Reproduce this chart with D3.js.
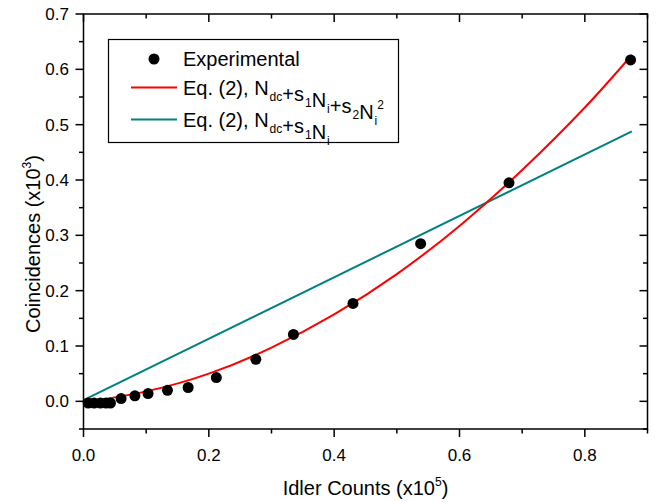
<!DOCTYPE html>
<html lang="en">
<head>
    <meta charset="UTF-8">
    <script src="https://d3js.org/d3.v7.min.js"></script>
    <title>Coincidences vs idler counts</title>
    <style>
    body { margin: 0; background: #fff; }
    svg { font-family: "Liberation Sans", Arial, sans-serif; }
    </style>
</head>
<body>
    <div class="content"></div>
    <script>
    // experimental points (x10^5 idler counts, x10^3 coincidences)
    var expX = [0.0075, 0.017, 0.027, 0.036, 0.043, 0.060, 0.082, 0.103, 0.134, 0.167, 0.212, 0.275, 0.335, 0.430, 0.538, 0.679, 0.873];
    var expY = [-0.003, -0.003, -0.003, -0.003, -0.003, 0.005, 0.010, 0.014, 0.020, 0.025, 0.043, 0.076, 0.121, 0.177, 0.285, 0.395, 0.617];

    // quadratic fit curve
    var quadX = [0, 0.1, 0.2, 0.3, 0.4, 0.5, 0.6, 0.7, 0.8, 0.875];
    var quadY = [-0.002, 0.018, 0.050, 0.097, 0.157, 0.230, 0.317, 0.418, 0.531, 0.626];

    // linear fit line
    var linX = [0, 0.875];
    var linY = [0.002, 0.488];

    var xTicks = [0, 0.2, 0.4, 0.6, 0.8];
    var yTicks = [0, 0.1, 0.2, 0.3, 0.4, 0.5, 0.6, 0.7];

    var W = 667, H = 502;
    var m = { left: 83.5, right: 647.5, top: 14, bottom: 429 };

    var svg = d3.select(".content").append("svg")
        .attr("width", W)
        .attr("height", H);

    var x = d3.scaleLinear().domain([0, 0.9]).range([m.left, m.right]);
    var y = d3.scaleLinear().domain([-0.05, 0.7]).range([m.bottom, m.top]);

    // minor ticks
    var xMinor = d3.range(0, 0.91, 0.1).map(function(d) { return +d.toFixed(2); });
    var yMinor = d3.range(-0.05, 0.701, 0.05).map(function(d) { return +d.toFixed(3); });

    // fit lines
    var line = d3.line().x(function(d) { return x(d[0]); }).y(function(d) { return y(d[1]); });

    svg.append("path")
        .datum(linX.map(function(d, i) { return [d, linY[i]]; }))
        .attr("d", line)
        .attr("fill", "none")
        .attr("stroke", "#008080")
        .attr("stroke-width", 2);

    svg.append("path")
        .datum(quadX.map(function(d, i) { return [d, quadY[i]]; }))
        .attr("d", line.curve(d3.curveNatural))
        .attr("fill", "none")
        .attr("stroke", "#ff0000")
        .attr("stroke-width", 2);

    svg.selectAll(".pt")
        .data(expX.map(function(d, i) { return [d, expY[i]]; }))
        .enter().append("circle")
        .attr("class", "pt")
        .attr("cx", function(d) { return x(d[0]); })
        .attr("cy", function(d) { return y(d[1]); })
        .attr("r", 5.5)
        .attr("fill", "#000");

    // frame + ticks
    var ax = svg.append("g").attr("stroke", "#000").attr("stroke-width", 1.5);
    ax.append("rect")
        .attr("x", m.left).attr("y", m.top)
        .attr("width", m.right - m.left).attr("height", m.bottom - m.top)
        .attr("fill", "none");

    xMinor.forEach(function(v, i) {
        var len = (i % 2 === 0) ? 8 : 4.5;
        ax.append("line").attr("x1", x(v)).attr("x2", x(v))
            .attr("y1", m.bottom).attr("y2", m.bottom + len);
        ax.append("line").attr("x1", x(v)).attr("x2", x(v))
            .attr("y1", m.top).attr("y2", m.top + len);
    });
    yMinor.forEach(function(v, i) {
        var len = (i % 2 === 1) ? 8 : 4.5;
        ax.append("line").attr("y1", y(v)).attr("y2", y(v))
            .attr("x1", m.left).attr("x2", m.left - len);
        ax.append("line").attr("y1", y(v)).attr("y2", y(v))
            .attr("x1", m.right).attr("x2", m.right - len);
    });

    // tick labels
    svg.selectAll(".xl")
        .data(xTicks)
        .enter().append("text")
        .attr("x", function(d) { return x(d); })
        .attr("y", 461)
        .attr("text-anchor", "middle")
        .attr("font-size", 17)
        .text(function(d) { return d.toFixed(1); });

    svg.selectAll(".yl")
        .data(yTicks)
        .enter().append("text")
        .attr("x", 69)
        .attr("y", function(d) { return y(d) + 6; })
        .attr("text-anchor", "end")
        .attr("font-size", 17)
        .text(function(d) { return d.toFixed(1); });

    // axis titles
    var xt = svg.append("text")
        .attr("x", (m.left + m.right) / 2)
        .attr("y", 495)
        .attr("text-anchor", "middle")
        .attr("font-size", 20);
    xt.append("tspan").text("Idler Counts (x10");
    xt.append("tspan").attr("dy", -9).attr("font-size", 12).text("5");
    xt.append("tspan").attr("dy", 9).text(")");

    var yt = svg.append("text")
        .attr("transform", "translate(40,244) rotate(-90)")
        .attr("text-anchor", "middle")
        .attr("font-size", 20);
    yt.append("tspan").text("Coincidences (x10");
    yt.append("tspan").attr("dy", -9).attr("font-size", 12).text("3");
    yt.append("tspan").attr("dy", 9).text(")");

    // legend
    var lg = svg.append("g");
    lg.append("rect")
        .attr("x", 108.5).attr("y", 39.5)
        .attr("width", 290).attr("height", 103)
        .attr("fill", "#fff")
        .attr("stroke", "#000")
        .attr("stroke-width", 1.2);

    lg.append("circle").attr("cx", 154).attr("cy", 59).attr("r", 5.5).attr("fill", "#000");
    lg.append("line").attr("x1", 131).attr("x2", 177).attr("y1", 87.5).attr("y2", 87.5)
        .attr("stroke", "#ff0000").attr("stroke-width", 2);
    lg.append("line").attr("x1", 131).attr("x2", 177).attr("y1", 119.5).attr("y2", 119.5)
        .attr("stroke", "#008080").attr("stroke-width", 2);

    lg.append("text").attr("x", 183).attr("y", 65.5).attr("font-size", 20).text("Experimental");

    function sub(t, s) {
        t.append("tspan").attr("dy", 6).attr("dx", 1).attr("font-size", 12).text(s);
        t.append("tspan").attr("dy", -6).attr("dx", 1).text("");
    }

    var t2 = lg.append("text").attr("x", 183).attr("y", 95).attr("font-size", 20);
    t2.append("tspan").text("Eq. (2), N");
    sub(t2, "dc");
    t2.append("tspan").text("+s");
    sub(t2, "1");
    t2.append("tspan").text("N");
    sub(t2, "i");
    t2.append("tspan").text("+s");
    sub(t2, "2");
    t2.append("tspan").text("N");
    t2.append("tspan").attr("dy", 6).attr("dx", 1).attr("font-size", 12).text("i");
    t2.append("tspan").attr("dy", -16).attr("dx", 0).attr("font-size", 12).text("2");

    var t3 = lg.append("text").attr("x", 183).attr("y", 126.5).attr("font-size", 20);
    t3.append("tspan").text("Eq. (2), N");
    sub(t3, "dc");
    t3.append("tspan").text("+s");
    sub(t3, "1");
    t3.append("tspan").text("N");
    t3.append("tspan").attr("dy", 6).attr("dx", 1).attr("font-size", 12).text("i");
    </script>
</body>
</html>
